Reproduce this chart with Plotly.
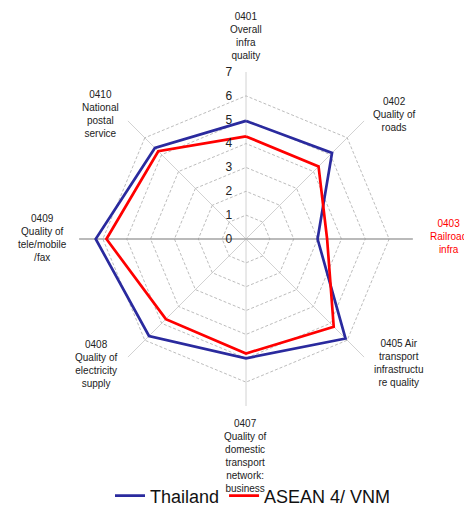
import plotly.graph_objects as go

codes = ["0401", "0402", "0403", "0405", "0407", "0408", "0409", "0410"]
label_text = [
    "0401<br>Overall<br>infra<br>quality",
    "0402<br>Quality of<br>roads",
    "0403<br>Railroad<br>infra",
    "0405 Air<br>transport<br>infrastructu<br>re quality",
    "0407<br>Quality of<br>domestic<br>transport<br>network:<br>business",
    "0408<br>Quality of<br>electricity<br>supply",
    "0409<br>Quality of<br>tele/mobile<br>/fax",
    "0410<br>National<br>postal<br>service",
]
thailand = [4.95, 5.1, 3.0, 5.9, 5.0, 5.75, 6.3, 5.4]
asean = [4.3, 4.3, 3.4, 5.2, 4.8, 4.75, 5.85, 5.2]
radial_ticks = [0, 1, 2, 3, 4, 5, 6, 7]
r_max = 7

# label placement (style): screen-pixel anchor and anchoring per category
label_pos = [
    (246, 63, "center", "bottom"),
    (394, 114, "center", "middle"),
    (448, 236, "center", "middle"),
    (398, 363, "center", "middle"),
    (245, 416, "center", "top"),
    (96, 364, "center", "middle"),
    (42, 238, "center", "middle"),
    (100, 114, "center", "middle"),
]
label_color = ["#222222", "#222222", "#ff0000", "#222222", "#222222", "#222222", "#222222", "#222222"]

W, H = 472, 509
L, T, S = 71, 64, 334
BODY = 8


def px_to_paper(x, y):
    return (x - BODY - L) / S, (T + S - (y - BODY)) / S


def closed(v):
    return list(v) + [v[0]]


fig = go.Figure()
# darker horizontal axis line through the centre
fig.add_trace(go.Scatterpolar(
    r=[r_max, r_max], theta=[codes[2], codes[6]],
    mode="lines", line=dict(color="#8c8c8c", width=1.2),
    showlegend=False, hoverinfo="skip"))
fig.add_trace(go.Scatterpolar(
    r=closed(thailand), theta=closed(codes), mode="lines",
    name="Thailand", line=dict(color="#2a2a9e", width=2.7)))
fig.add_trace(go.Scatterpolar(
    r=closed(asean), theta=closed(codes), mode="lines",
    name="ASEAN 4/ VNM", line=dict(color="#ff0000", width=2.7)))

annotations = []
for txt, (x, y, xa, ya), col in zip(label_text, label_pos, label_color):
    px, py = px_to_paper(x, y)
    annotations.append(dict(
        x=px, y=py, xref="paper", yref="paper", text=txt, showarrow=False,
        xanchor=xa, yanchor=ya, align="center",
        font=dict(size=10, color=col, family="Liberation Sans, Arial")))

fig.update_layout(
    width=W, height=H,
    margin=dict(l=L, r=W - L - S, t=T, b=H - T - S),
    paper_bgcolor="white", plot_bgcolor="white",
    font=dict(family="Liberation Sans, Arial", color="#222222"),
    annotations=annotations,
    polar=dict(
        bgcolor="white",
        gridshape="linear",
        radialaxis=dict(
            range=[0, r_max], tickvals=radial_ticks, ticktext=[str(t) for t in radial_ticks],
            angle=90, tickangle=90, showline=False,
            ticks="outside", ticklen=9, tickcolor="rgba(0,0,0,0)",
            gridcolor="#bdbdbd", griddash="3px,2px", gridwidth=1,
            tickfont=dict(size=12, color="#222222"), side="counterclockwise",
        ),
        angularaxis=dict(
            rotation=90, direction="clockwise", showline=False,
            gridcolor="#d2d2d2", gridwidth=1.4, ticks="", showticklabels=False,
            categoryorder="array", categoryarray=codes,
        ),
    ),
    legend=dict(
        orientation="h", xref="container", yref="container",
        x=(253 - BODY) / W, xanchor="center",
        y=(H - (496 - BODY)) / H, yanchor="middle",
        font=dict(size=18, color="#111111"), bgcolor="rgba(0,0,0,0)",
        itemwidth=30,
    ),
)

fig.write_html("out.html")
